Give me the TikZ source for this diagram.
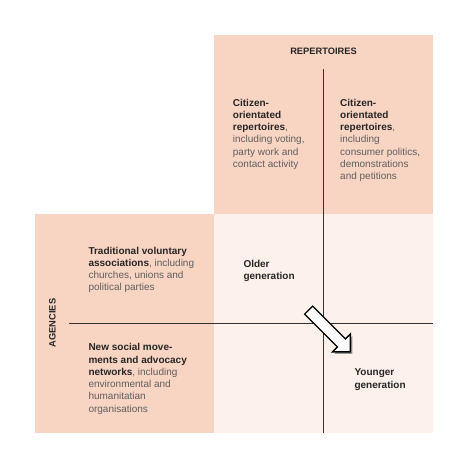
\documentclass[tikz,border=0pt]{standalone}
\usepackage{fontspec}
\setmainfont{Liberation Sans}
\usetikzlibrary{shapes.arrows}
\definecolor{peach}{RGB}{248,212,195}
\definecolor{blush}{RGB}{253,241,235}
\definecolor{rulegray}{RGB}{51,51,51}
\definecolor{bodygray}{RGB}{95,95,95}
\newcommand{\keyterm}[1]{\textbf{\color{black!85}#1}}
\tikzset{
  panel/.style={fill=peach,draw=none},
  field/.style={fill=blush,draw=none},
  divider/.style={draw=rulegray,line width=0.8pt},
  axislabel/.style={font=\bfseries\fontsize{9.3}{11}\selectfont,text=black!85,inner sep=0pt},
  % base of a multi-line node = baseline of its last line
  entry/.style={anchor=base west,align=left,inner sep=0pt,font=\fontsize{10}{12.3}\selectfont,text=bodygray},
  genarrow/.style={single arrow,draw=black,fill=white,line width=1.3pt,minimum height=59pt,
    inner sep=5pt,single arrow head extend=7pt,single arrow head indent=0pt,rotate=-45}
}
\begin{document}
\begin{tikzpicture}[x=1pt,y=-1pt]
  \useasboundingbox (0,0) rectangle (467,467);
  % quadrants
  \fill[panel] (214,35) rectangle (433,214);
  \fill[panel] (35,214) rectangle (214,433);
  \fill[field] (214,214) rectangle (433,433);
  \coordinate (vtop) at (323.5,69);
  \coordinate (vbot) at (323.5,433);
  \coordinate (hleft) at (69,323);
  \coordinate (hright) at (433,323);
  \draw[divider] (vtop) -- (vbot);
  \draw[divider] (hleft) -- (hright);
  % axis titles
  \node[axislabel,anchor=base] (rep) at (323.5,54) {REPERTOIRES};
  \node[axislabel,anchor=base,rotate=90] (agen) at (55.7,323) {AGENCIES};
  % cells
  \node[entry] (oldrep) at (232.7,167.5) {\keyterm{Citizen-}\\\keyterm{orientated}\\\keyterm{repertoires},\\including voting,\\party work and\\contact activity};
  \node[entry] (newrep) at (340,179.8) {\keyterm{Citizen-}\\\keyterm{orientated}\\\keyterm{repertoires},\\including\\consumer politics,\\demonstrations\\and petitions};
  \node[entry] (oldag) at (88.3,290.9) {\keyterm{Traditional voluntary}\\\keyterm{associations}, including\\churches, unions and\\political parties};
  \node[entry] (newag) at (88.3,412.2) {\keyterm{New social move-}\\\keyterm{ments and advocacy}\\\keyterm{networks}, including\\environmental and\\humanitatian\\organisations};
  \node[entry] (older) at (243.3,279.6) {\keyterm{Older}\\\keyterm{generation}};
  \node[entry] (younger) at (354.3,388) {\keyterm{Younger}\\\keyterm{generation}};
  % shift arrow
  \node[genarrow,draw=none,fill=black!40] (shade) at (329.5,331) {};
  \node[genarrow] (move) at (327.5,329) {};
\end{tikzpicture}
\end{document}
